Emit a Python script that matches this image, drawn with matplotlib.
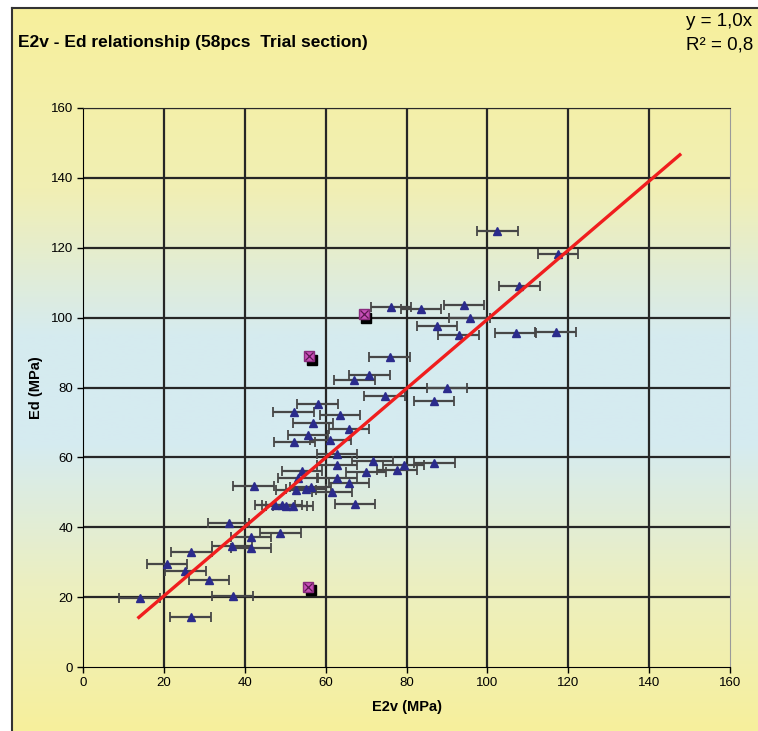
import numpy as np
import matplotlib
matplotlib.use('Agg')
import matplotlib.pyplot as plt
from matplotlib.colors import LinearSegmentedColormap

plt.rcParams['font.family'] = ['Liberation Sans', 'DejaVu Sans']

# measured points (E2v, Ed) - 58 pcs
e2v = [102.5, 117.5, 107.9, 76.1, 83.6, 94.2, 95.6, 87.5, 92.9, 107.0,
       116.9, 75.8, 70.8, 67.1, 90.0, 74.6, 86.8, 58.0, 52.1, 63.5,
       56.9, 65.8, 55.6, 61.2, 52.3, 62.8, 71.6, 86.9, 79.3, 62.8,
       54.2, 70.0, 77.6, 53.2, 62.8, 65.8, 42.2, 52.7, 55.1, 56.3,
       61.6, 67.3, 47.5, 49.2, 50.3, 51.9, 36.0, 48.8, 41.6, 36.8,
       41.6, 26.8, 20.8, 25.3, 31.1, 14.0, 37.0, 26.6]
ed = [124.9, 118.3, 109.1, 103.0, 102.6, 103.6, 99.9, 97.7, 95.0, 95.6,
      95.9, 88.8, 83.5, 82.1, 79.9, 77.5, 76.1, 75.4, 73.0, 72.0,
      69.7, 68.2, 66.4, 64.9, 64.4, 60.9, 59.1, 58.5, 57.8, 57.8,
      56.1, 55.9, 56.3, 54.2, 54.2, 52.6, 51.8, 50.7, 51.0, 51.5,
      50.2, 46.6, 46.5, 46.3, 46.0, 46.0, 41.3, 38.3, 37.2, 34.5,
      34.1, 33.0, 29.6, 27.5, 25.0, 19.8, 20.2, 14.2]
e2v_err = [5.0] * len(e2v)

# excluded points
out_x = [69.4, 56.0, 55.6]
out_y = [101.0, 88.9, 23.0]
blk_x = [70.1, 56.7, 56.3]
blk_y = [100.0, 88.0, 22.0]

# trend line
trend_x = [13.8, 147.6]
trend_y = [14.2, 146.6]

fig = plt.figure(figsize=(7.58, 7.31), dpi=100)

# gradient background inside the chart frame
cmap = LinearSegmentedColormap.from_list('bg', [
    (0.0, '#f7f09c'), (0.25, '#f1efb4'), (0.45, '#d6ebef'),
    (0.6, '#d5ebf1'), (0.8, '#ecefc0'), (1.0, '#f7f09c')])
bg = fig.add_axes([12 / 758, 0, 1 - 12 / 758, 1 - 8 / 731], zorder=-2)
bg.imshow(np.linspace(0, 1, 256).reshape(-1, 1), aspect='auto', cmap=cmap,
          extent=[0, 1, 0, 1])
bg.set_xticks([])
bg.set_yticks([])
for s in ['right', 'bottom']:
    bg.spines[s].set_visible(False)
for s in ['left', 'top']:
    bg.spines[s].set_color('#333333')
    bg.spines[s].set_linewidth(1.5)

ax = fig.add_axes([83 / 758, 1 - 667 / 731, 647 / 758, 559 / 731])
ax.patch.set_alpha(0)

ax.set_xlim(0, 160)
ax.set_ylim(0, 160)
ax.set_xticks(range(0, 161, 20))
ax.set_yticks(range(0, 161, 20))
for v in range(20, 160, 20):
    ax.axvline(v, color='#262626', lw=1.6, zorder=1)
for v in range(20, 161, 20):
    ax.axhline(v, color='#262626', lw=1.6, zorder=1)

ax.errorbar(e2v, ed, xerr=e2v_err, fmt='^', color='#2b2b8c', ms=5.5,
            ecolor='#474747', elinewidth=1.6, capsize=3.8, capthick=1.3,
            zorder=3)
ax.plot(blk_x, blk_y, 's', color='black', ms=7, zorder=4)
ax.plot(out_x, out_y, 's', color='#c84fb8', mec='#8a2c7e', ms=7, zorder=5)
ax.plot(out_x, out_y, 'x', color='#5a1850', ms=6, mew=0.9, zorder=6)
ax.plot(trend_x, trend_y, color='#f01e1e', lw=2.4, zorder=4)

ax.spines['left'].set_color('black')
ax.spines['bottom'].set_color('black')
ax.spines['top'].set_color('#2a2a2a')
ax.spines['right'].set_color('#9a9a9a')
ax.tick_params(direction='out', length=4, width=1, colors='black',
               labelsize=9.5, pad=3)

ax.set_xlabel('E2v (MPa)', fontsize=10.5, fontweight='bold', labelpad=8)
ax.set_ylabel('Ed (MPa)', fontsize=10.5, fontweight='bold', labelpad=6)

fig.text(18 / 758, 1 - 43 / 731, 'E2v - Ed relationship (58pcs  Trial section)',
         fontsize=12.5, fontweight='bold', va='center', ha='left')
fig.text(686 / 758, 1 - 22 / 731, 'y = 1,0x', fontsize=13.5, va='center', ha='left')
fig.text(686 / 758, 1 - 45 / 731, 'R² = 0,8', fontsize=13.5, va='center', ha='left')

fig.savefig('out.png', dpi=100)
